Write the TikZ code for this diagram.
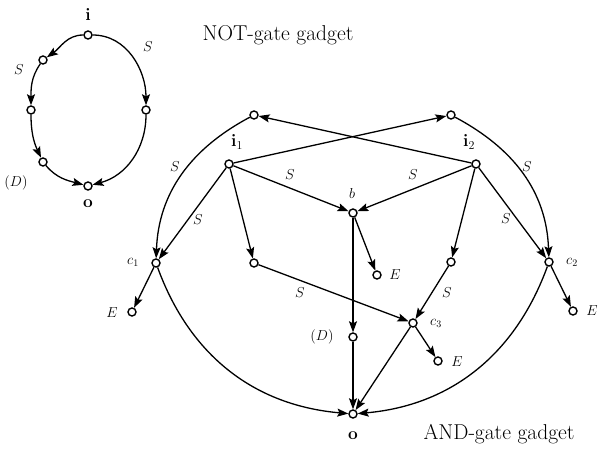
\documentclass[tikz,border=0pt]{standalone}
\usetikzlibrary{arrows.meta}
\begin{document}
\begin{tikzpicture}[x=1pt,y=-1pt,
  v/.style={circle,draw,fill=white,line width=1.4pt,inner sep=0pt,minimum size=8pt},
  e/.style={line width=1.3pt,-{Stealth[length=11pt,width=8pt,inset=2pt]}},
  lab/.style={font=\fontsize{14.5}{16}\selectfont,inner sep=0pt},
  big/.style={font=\fontsize{18}{20}\selectfont,inner sep=0pt},
  ttl/.style={font=\fontsize{21.5}{24}\selectfont,inner sep=0pt}]
\path[use as bounding box] (0,0) rectangle (598,448);

% ---------- NOT gadget ----------
\node[v] (ni) at (88,35) {};
\node[v] (nl1) at (43,60) {};
\node[v] (nl2) at (31,110) {};
\node[v] (nl3) at (43,162) {};
\node[v] (no) at (88,186) {};
\node[v] (nr) at (146,110) {};
\node[big] (tni) at (88,14) {$\mathbf{i}$};
\node[big] (tno) at (88,204) {$\mathbf{o}$};
\node[lab] (tns1) at (19,70) {$S$};
\node[lab] (tns2) at (148,47) {$S$};
\node[lab] (tnd) at (16,183) {$(D)$};
\node[ttl] (tnot) at (278,35) {NOT-gate gadget};

\draw[e] (ni) to[out=180,in=35] (nl1);
\draw[e] (nl1) to[out=235,in=90] (nl2);
\draw[e] (nl2) to[out=-90,in=115] (nl3);
\draw[e] (nl3) to[out=-50,in=165] (no);
\draw[e] (ni) to[out=0,in=90] (nr);
\draw[e] (nr) to[out=-90,in=15] (no);

% ---------- AND gadget ----------
\node[v] (i1) at (229,164) {};
\node[v] (i2) at (476,164) {};
\node[v] (tl) at (254,115) {};
\node[v] (tr) at (451,115) {};
\node[v] (b) at (353,213) {};
\node[v] (c1) at (156,263) {};
\node[v] (m1) at (254,263) {};
\node[v] (m2) at (451,262) {};
\node[v] (c2) at (549,262) {};
\node[v] (e1) at (132,312) {};
\node[v] (eb) at (377,275) {};
\node[v] (e2) at (573,311) {};
\node[v] (c3) at (413,323) {};
\node[v] (e3) at (438,361) {};
\node[v] (d) at (353,337) {};
\node[v] (o) at (353,414) {};

\node[big] (ti1) at (237,142) {$\mathbf{i}_1$};
\node[big] (ti2) at (469,142) {$\mathbf{i}_2$};
\node[big] (to) at (353,436) {$\mathbf{o}$};
\node[lab] (tb) at (352,193) {$b$};
\node[lab] (tc1) at (133,262) {$c_1$};
\node[lab] (tc2) at (572,262) {$c_2$};
\node[lab] (tc3) at (436,323) {$c_3$};
\node[lab] (te1) at (112,313) {$E$};
\node[lab] (teb) at (395,275) {$E$};
\node[lab] (te2) at (592,311) {$E$};
\node[lab] (te3) at (457,362) {$E$};
\node[lab] (td) at (322,337) {$(D)$};
\node[lab] (ts1) at (175,167) {$S$};
\node[lab] (ts2) at (198,220) {$S$};
\node[lab] (ts3) at (290,175) {$S$};
\node[lab] (ts4) at (413,175) {$S$};
\node[lab] (ts5) at (527,167) {$S$};
\node[lab] (ts6) at (506,219) {$S$};
\node[lab] (ts7) at (300,293) {$S$};
\node[lab] (ts8) at (447,293) {$S$};
\node[ttl] (tand) at (499,434) {AND-gate gadget};

\draw[e] (i1) -- (tr);
\draw[e] (i2) -- (tl);
\draw[e] (tl) to[out=208,in=88] (c1);
\draw[e] (tr) to[out=-28,in=92] (c2);
\draw[e] (i1) -- (c1);
\draw[e] (i1) -- (m1);
\draw[e] (i1) -- (b);
\draw[e] (i2) -- (b);
\draw[e] (i2) -- (m2);
\draw[e] (i2) -- (c2);
\draw[e] (b) -- (eb);
\draw[e] (b) -- (d);
\draw[e] (m1) -- (c3);
\draw[e] (m2) -- (c3);
\draw[e] (c3) -- (e3);
\draw[e] (c3) -- (o);
\draw[e] (d) -- (o);
\draw[e] (c1) -- (e1);
\draw[e] (c2) -- (e2);
\draw[e] (c1) to[out=-70,in=175] (o);
\draw[e] (c2) to[out=-110,in=5] (o);
\end{tikzpicture}
\end{document}
